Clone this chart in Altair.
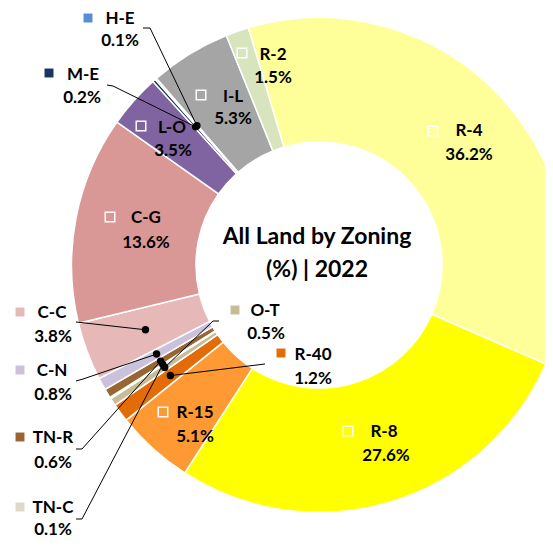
import math
import numpy as np
import pandas as pd
import altair as alt

# ---- data ----
zones = ["R-4", "R-8", "R-15", "R-40", "O-T", "TN-C", "TN-R", "C-N",
         "C-C", "C-G", "L-O", "M-E", "H-E", "I-L", "R-2"]
shares = [36.2, 27.6, 5.1, 1.2, 0.5, 0.1, 0.6, 0.8,
          3.8, 13.6, 3.5, 0.2, 0.1, 5.3, 1.5]
colors = ["#FFFF99", "#FFFF00", "#FF9933", "#E36C09", "#C4BD97", "#DDD9C4",
          "#996633", "#CCC1DA", "#E6B9B8", "#D99795", "#8064A2", "#17375E",
          "#558ED5", "#A5A5A5", "#D7E4BD"]
title_lines = ["All Land by Zoning", "(%) | 2022"]

# ---- layout (page pixels) ----
M = 8
CX, CY = 319, 265
R_OUT, R_IN = 247.5, 123
START = math.radians(-16.6)
FONT = "Lato"

# label placement: square (x,y), name (x,y), pct (x,y), inside?
label_pos = {
    "R-4": ((433, 131), (469, 131), (469, 155), True),
    "R-8": ((348, 431), (384, 432), (386, 456), True),
    "R-15": ((163, 412), (195, 413), (195, 437), True),
    "R-40": ((281, 353), (313, 355), (313, 379), False),
    "O-T": ((235, 310), (265, 311), (266, 334), False),
    "TN-C": ((20, 507), (53, 508), (53, 530), False),
    "TN-R": ((20, 437), (53, 438), (53, 463), False),
    "C-N": ((20, 370), (52, 371), (53, 395), False),
    "C-C": ((20, 312), (52, 313), (53, 337), False),
    "C-G": ((110, 217), (146, 218), (146, 243), True),
    "L-O": ((141, 126), (172, 128), (173, 151), True),
    "M-E": ((49, 73), (83, 75), (82, 98), False),
    "H-E": ((88, 18), (120, 19), (120, 41), False),
    "I-L": ((201, 95), (233, 97), (233, 119), True),
    "R-2": ((242, 53), (273, 55), (273, 78), True),
}
leader_start = {
    "R-40": [(265, 364)],
    "O-T": [(219, 321), (213, 321)],
    "TN-C": [(76, 519), (82, 519)],
    "TN-R": [(76, 449), (82, 449)],
    "C-N": [(76, 381), (83, 379)],
    "C-C": [(76, 322)],
    "M-E": [(107, 85), (113, 86)],
    "H-E": [(143, 28), (150, 28)],
}

df = pd.DataFrame({"zone": zones, "share": shares, "idx": range(len(zones))})
df["pct"] = df["share"].map(lambda v: f"{v:.1f}%")
total = df["share"].sum()
mid = (df["share"].cumsum() - df["share"] / 2) / total
ang = START + mid * 2 * math.pi
r_mid = (R_OUT + R_IN) / 2
df["dot_x"] = CX - M + r_mid * np.sin(ang)
df["dot_y"] = CY - M - r_mid * np.cos(ang)

color_scale = alt.Scale(domain=zones, range=colors)

# ---- donut ----
arc = alt.Chart(df).mark_arc(
    innerRadius=R_IN, outerRadius=R_OUT, stroke="white", strokeWidth=1.5
).encode(
    theta=alt.Theta("share:Q", stack=True,
                    scale=alt.Scale(range=[START, START + 2 * math.pi])),
    order=alt.Order("idx:Q"),
    color=alt.Color("zone:N", scale=color_scale, legend=None),
    x=alt.value(CX - M),
    y=alt.value(CY - M),
)

# ---- leader lines & dots ----
rows = []
for z, pts in leader_start.items():
    d = df[df.zone == z].iloc[0]
    seq = 0
    for (px, py) in pts:
        rows.append({"zone": z, "seq": seq, "x": px - M, "y": py - M})
        seq += 1
    rows.append({"zone": z, "seq": seq, "x": d.dot_x, "y": d.dot_y})
lines_df = pd.DataFrame(rows)

lines = alt.Chart(lines_df).mark_line(color="black", strokeWidth=1).encode(
    x=alt.X("x:Q", scale=None, axis=None),
    y=alt.Y("y:Q", scale=None, axis=None),
    detail="zone:N",
    order="seq:Q",
)

dots_df = df[df.zone.isin(list(leader_start.keys()))]
dots = alt.Chart(dots_df).mark_circle(color="black", size=55, opacity=1).encode(
    x=alt.X("dot_x:Q", scale=None, axis=None),
    y=alt.Y("dot_y:Q", scale=None, axis=None),
)

# ---- labels ----
lab_rows = []
for z, (sq, nm, pc, inside) in label_pos.items():
    d = df[df.zone == z].iloc[0]
    lab_rows.append({"zone": z, "inside": inside,
                     "sx": sq[0] - M, "sy": sq[1] - M,
                     "nx": nm[0] - M, "ny": nm[1] - M,
                     "px": pc[0] - M, "py": pc[1] - M,
                     "name": z, "pct": d.pct})
lab_df = pd.DataFrame(lab_rows)

sq_ext = alt.Chart(lab_df[~lab_df.inside]).mark_point(
    shape="square", size=80, filled=True, opacity=1
).encode(
    x=alt.X("sx:Q", scale=None, axis=None),
    y=alt.Y("sy:Q", scale=None, axis=None),
    color=alt.Color("zone:N", scale=color_scale, legend=None),
)
sq_int = alt.Chart(lab_df[lab_df.inside]).mark_point(
    shape="square", size=90, filled=False, stroke="white", strokeWidth=1.5, opacity=1
).encode(
    x=alt.X("sx:Q", scale=None, axis=None),
    y=alt.Y("sy:Q", scale=None, axis=None),
)
names = alt.Chart(lab_df).mark_text(
    font=FONT, fontWeight="bold", fontSize=17, align="center", baseline="middle", color="black"
).encode(
    x=alt.X("nx:Q", scale=None, axis=None),
    y=alt.Y("ny:Q", scale=None, axis=None),
    text="name:N",
)
pcts = alt.Chart(lab_df).mark_text(
    font=FONT, fontWeight="bold", fontSize=17, align="center", baseline="middle", color="black"
).encode(
    x=alt.X("px:Q", scale=None, axis=None),
    y=alt.Y("py:Q", scale=None, axis=None),
    text="pct:N",
)

title_df = pd.DataFrame({"t": title_lines, "tx": [317 - M, 317 - M], "ty": [237 - M, 270 - M]})
title = alt.Chart(title_df).mark_text(
    font=FONT, fontWeight="bold", fontSize=23, align="center", baseline="middle", color="black"
).encode(
    x=alt.X("tx:Q", scale=None, axis=None),
    y=alt.Y("ty:Q", scale=None, axis=None),
    text="t:N",
)

chart = alt.layer(arc, lines, dots, sq_ext, sq_int, names, pcts, title).properties(
    width=537, height=532,
    autosize=alt.AutoSizeParams(type="none"),
    padding=0,
).configure_view(stroke=None)

chart.save("out.html", embed_options={"renderer": "svg", "actions": False})
